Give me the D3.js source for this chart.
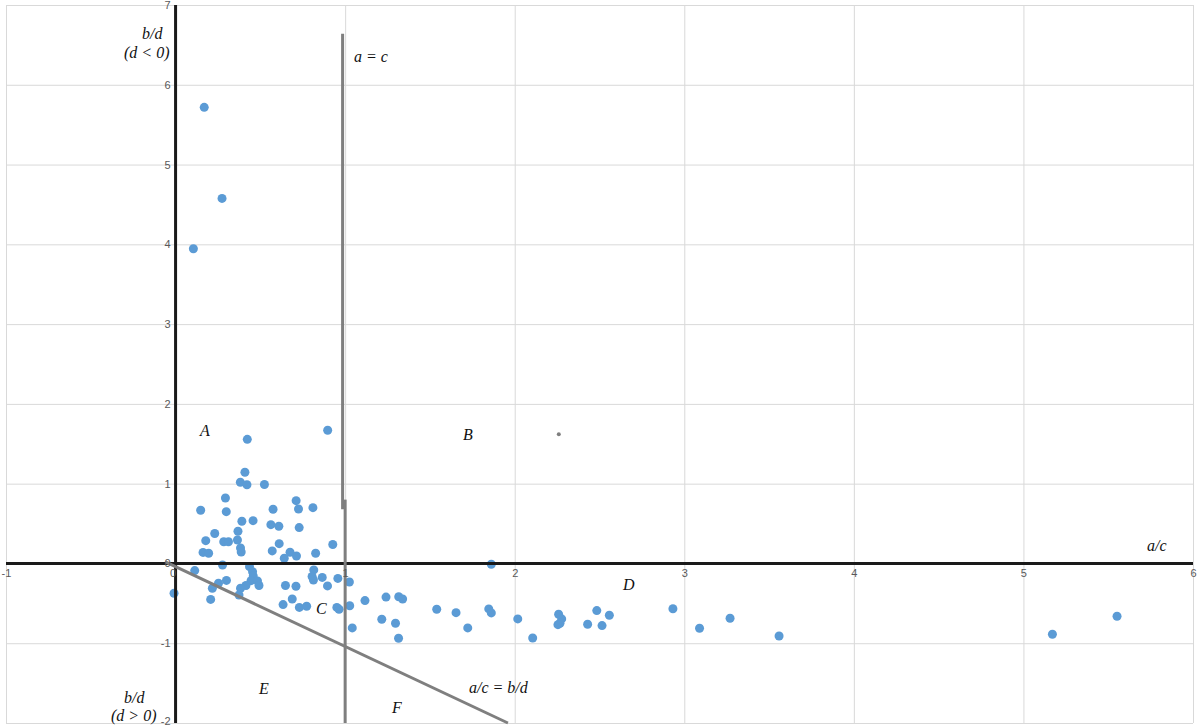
<!DOCTYPE html>
<html>
<head>
<meta charset="utf-8">
<script src="https://cdn.jsdelivr.net/npm/d3@7"></script>
<style>
  html, body { margin: 0; padding: 0; background: #fff; }
  svg { display: block; }
</style>
</head>
<body>
<svg id="chart" width="1199" height="726"></svg>
<script>
// ---------- data ----------
const xTicks = [-1, 0, 1, 2, 3, 4, 5, 6];
const yTicks = [-2, -1, 0, 1, 2, 3, 4, 5, 6, 7];

// a/c values of the observations
const ratioAC = [
  0.169, 0.274, 0.105,
  0.897, 0.423, 0.409, 0.382, 0.421, 0.524, 0.294, 0.148, 0.299, 0.575, 0.711, 0.725, 0.810,
  0.391, 0.457, 0.562, 0.609, 0.729, 0.231, 0.368, 0.178, 0.284, 0.312, 0.365, 0.927, 0.611,
  0.383, 0.387, 0.162, 0.195, 0.570, 0.675, 0.713, 0.641, 0.826,
  -0.009, 0.113, 0.277, 0.436, 0.454, 0.458, 0.445, 0.483, 0.492, 0.415, 0.383, 0.374, 0.300,
  0.253, 0.217, 0.207, 0.648, 0.710, 0.815, 0.805, 0.813, 0.865, 0.896, 0.957, 1.025, 0.688,
  0.634, 0.730, 0.773, 0.951, 0.964, 1.027, 1.042, 1.117, 1.216, 1.241, 1.297, 1.316, 1.339,
  1.315, 1.540, 1.654, 1.723, 1.847, 1.862, 1.862, 2.018, 2.106, 2.259, 2.277, 2.255, 2.267,
  2.430, 2.484, 2.515, 2.558, 2.933, 3.090, 3.270, 3.559, 5.171, 5.552
];
// b/d values of the observations
const ratioBD = [
  5.717, 4.576, 3.945,
  1.669, 1.556, 1.143, 1.018, 0.987, 0.990, 0.821, 0.667, 0.649, 0.679, 0.787, 0.683, 0.699,
  0.529, 0.536, 0.486, 0.466, 0.449, 0.376, 0.404, 0.286, 0.272, 0.272, 0.294, 0.238, 0.248,
  0.194, 0.144, 0.138, 0.128, 0.157, 0.140, 0.094, 0.065, 0.128,
  -0.373, -0.090, -0.019, -0.040, -0.103, -0.157, -0.216, -0.219, -0.276, -0.276, -0.311, -0.395, -0.213,
  -0.248, -0.311, -0.451, -0.276, -0.286, -0.081, -0.163, -0.207, -0.175, -0.282, -0.188, -0.232, -0.445,
  -0.516, -0.551, -0.536, -0.551, -0.574, -0.530, -0.808, -0.466, -0.699, -0.422, -0.749, -0.417, -0.445,
  -0.937, -0.574, -0.617, -0.808, -0.570, -0.620, -0.010, -0.695, -0.934, -0.637, -0.695, -0.767, -0.749,
  -0.762, -0.591, -0.779, -0.649, -0.568, -0.812, -0.687, -0.909, -0.887, -0.662
];

// reference lines (data coordinates)
const lineACUpperX = [0.985, 0.985];
const lineACUpperY = [6.64, 0.68];
const lineACLowerX = [1.0, 1.0];
const lineACLowerY = [0.80, -2.0];
const lineDiagX = [-0.06, 1.96];
const lineDiagY = [0.02, -2.0];
const markerX = [2.26];
const markerY = [1.62];

// ---------- layout ----------
const plot = { left: 6, right: 1193, top: 5, bottom: 723 };

const svg = d3.select("#chart");
const x = d3.scaleLinear().domain([-1, 6]).range([plot.left, plot.right]);
const y = d3.scaleLinear().domain([-2, 7]).range([plot.bottom, plot.top]);

// gridlines
const gx = svg.append("g")
  .attr("transform", `translate(0,${plot.bottom})`)
  .call(d3.axisBottom(x).tickValues(xTicks).tickSize(-(plot.bottom - plot.top)).tickFormat(""));
gx.select(".domain").remove();
gx.selectAll(".tick line").attr("stroke", "#d9d9d9").attr("stroke-width", 1);

const gy = svg.append("g")
  .attr("transform", `translate(${plot.left},0)`)
  .call(d3.axisLeft(y).tickValues(yTicks).tickSize(-(plot.right - plot.left)).tickFormat(""));
gy.select(".domain").remove();
gy.selectAll(".tick line").attr("stroke", "#d9d9d9").attr("stroke-width", 1);

// points
const pts = ratioAC.map((v, i) => ({ ac: v, bd: ratioBD[i] }));
svg.append("g").selectAll("circle")
  .data(pts)
  .join("circle")
  .attr("cx", d => x(d.ac))
  .attr("cy", d => y(d.bd))
  .attr("r", 4.5)
  .attr("fill", "#5b9bd5");

// main axes (crossing at 0)
svg.append("line")
  .attr("x1", x(0)).attr("x2", x(0))
  .attr("y1", y(7)).attr("y2", y(-2))
  .attr("stroke", "#1a1a1a").attr("stroke-width", 3);
svg.append("line")
  .attr("x1", x(-1)).attr("x2", x(6))
  .attr("y1", y(0)).attr("y2", y(0))
  .attr("stroke", "#1a1a1a").attr("stroke-width", 3);

// reference lines
const lineGen = d3.line().x(d => x(d[0])).y(d => y(d[1]));
function refLine(xs, ys) {
  svg.append("path")
    .attr("d", lineGen(xs.map((v, i) => [v, ys[i]])))
    .attr("fill", "none")
    .attr("stroke", "#7f7f7f")
    .attr("stroke-width", 3);
}
refLine(lineACUpperX, lineACUpperY);
refLine(lineACLowerX, lineACLowerY);
refLine(lineDiagX, lineDiagY);

svg.append("g").selectAll("circle")
  .data(markerX.map((v, i) => [v, markerY[i]]))
  .join("circle")
  .attr("cx", d => x(d[0]))
  .attr("cy", d => y(d[1]))
  .attr("r", 2)
  .attr("fill", "#7f7f7f");

// tick labels
const fmt = d => String(d);
const ax = svg.append("g")
  .attr("transform", `translate(0,${y(0)})`)
  .call(d3.axisBottom(x).tickValues(xTicks).tickSize(0).tickPadding(6).tickFormat(fmt));
ax.select(".domain").remove();
ax.selectAll("text").attr("font-family", "Liberation Sans, Arial, sans-serif")
  .attr("font-size", 11).attr("fill", "#595959")
  .attr("dx", d => d === 0 ? -3 : 0);

const ay = svg.append("g")
  .attr("transform", `translate(${x(0)},0)`)
  .call(d3.axisLeft(y).tickValues(yTicks).tickSize(0).tickPadding(5).tickFormat(fmt));
ay.select(".domain").remove();
ay.selectAll("text").attr("font-family", "Liberation Sans, Arial, sans-serif")
  .attr("font-size", 11).attr("fill", "#595959")
  .attr("y", d => d === -2 ? -2.5 : 0);

// annotations (italic serif)
const notes = [
  { t: "b/d", px: 142, py: 39 },
  { t: "(d < 0)", px: 124, py: 58 },
  { t: "a = c", px: 354, py: 62 },
  { t: "A", px: 200, py: 436 },
  { t: "B", px: 463, py: 440 },
  { t: "C", px: 316, py: 614 },
  { t: "D", px: 623, py: 590 },
  { t: "E", px: 259, py: 694 },
  { t: "F", px: 392, py: 713 },
  { t: "a/c = b/d", px: 469, py: 693 },
  { t: "a/c", px: 1147, py: 551 },
  { t: "b/d", px: 124, py: 703 },
  { t: "(d > 0)", px: 111, py: 721 }
];
svg.append("g").selectAll("text")
  .data(notes)
  .join("text")
  .attr("x", d => d.px)
  .attr("y", d => d.py)
  .attr("font-family", "Liberation Serif, Times New Roman, serif")
  .attr("font-style", "italic")
  .attr("font-size", 16)
  .attr("fill", "#111")
  .text(d => d.t);
</script>
</body>
</html>
